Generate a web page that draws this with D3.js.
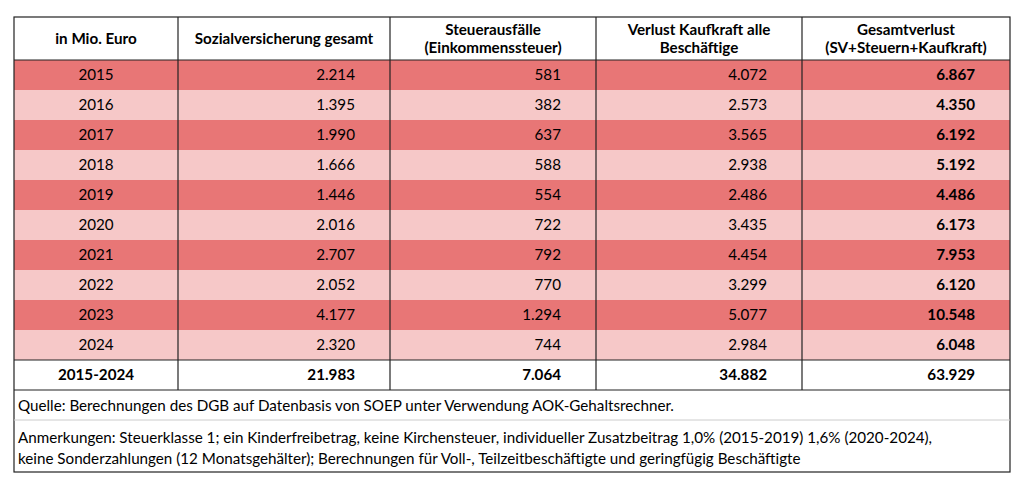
<!DOCTYPE html>
<meta charset="utf-8">
<script src="https://d3js.org/d3.v7.min.js"></script>
<style>body{margin:0;background:#fff}</style>
<div id="chart"></div>
<script>
// data
var headers = [["in Mio. Euro"], ["Sozialversicherung gesamt"], ["Steuerausfälle", "(Einkommenssteuer)"], ["Verlust Kaufkraft alle", "Beschäftige"], ["Gesamtverlust", "(SV+Steuern+Kaufkraft)"]]
var years = ["2015","2016","2017","2018","2019","2020","2021","2022","2023","2024"]
var sv = ["2.214","1.395","1.990","1.666","1.446","2.016","2.707","2.052","4.177","2.320"]
var steuer = ["581","382","637","588","554","722","792","770","1.294","744"]
var kaufkraft = ["4.072","2.573","3.565","2.938","2.486","3.435","4.454","3.299","5.077","2.984"]
var gesamt = ["6.867","4.350","6.192","5.192","4.486","6.173","7.953","6.120","10.548","6.048"]
var totals = ["2015-2024","21.983","7.064","34.882","63.929"]
var source = "Quelle: Berechnungen des DGB auf Datenbasis von SOEP unter Verwendung AOK-Gehaltsrechner."
var notes = ["Anmerkungen: Steuerklasse 1; ein Kinderfreibetrag, keine Kirchensteuer, individueller Zusatzbeitrag 1,0% (2015-2019) 1,6% (2020-2024),",
             "keine Sonderzahlungen (12 Monatsgehälter); Berechnungen für Voll-, Teilzeitbeschäftigte und geringfügig Beschäftigte"]

var font = "Lato, 'Open Sans', sans-serif"
var svg = d3.select("#chart").append("svg").attr("width", 1024).attr("height", 485)
  .style("font-family", font).style("font-size", "15.2px")

var colEdges = [14, 178, 390, 596, 802, 1010]
var rowY = d3.scaleBand().domain(years.concat(["total"])).range([60, 390])

// header
headers.forEach(function(h, i) {
  var t = svg.append("text").attr("text-anchor", "middle").attr("font-weight", "bold")
    .attr("x", (colEdges[i] + colEdges[i+1]) / 2)
  h.forEach(function(line, j) {
    t.append("tspan").attr("x", (colEdges[i] + colEdges[i+1]) / 2)
      .attr("y", h.length == 1 ? 44 : 35 + j * 18).text(line)
  })
})

// body rows
var rows = years.map(function(y, i) { return [y, sv[i], steuer[i], kaufkraft[i], gesamt[i]] })
rows.forEach(function(r, i) {
  var y = rowY(years[i])
  svg.append("rect").attr("x", colEdges[0]).attr("y", y).attr("width", colEdges[5] - colEdges[0])
    .attr("height", rowY.bandwidth()).attr("fill", i % 2 == 0 ? "#e87676" : "#f6c8c8")
  r.forEach(function(v, c) {
    svg.append("text")
      .attr("x", c == 0 ? (colEdges[0] + colEdges[1]) / 2 : colEdges[c+1] - 35)
      .attr("y", y + rowY.bandwidth() / 2 + 5)
      .attr("text-anchor", c == 0 ? "middle" : "end")
      .attr("font-weight", c == 4 ? "bold" : null)
      .text(v)
  })
})
totals.forEach(function(v, c) {
  svg.append("text")
    .attr("x", c == 0 ? (colEdges[0] + colEdges[1]) / 2 : colEdges[c+1] - 35)
    .attr("y", rowY("total") + rowY.bandwidth() / 2 + 5)
    .attr("text-anchor", c == 0 ? "middle" : "end").attr("font-weight", "bold").text(v)
})

// grid lines
var g = svg.append("g").attr("stroke", "#222").attr("stroke-width", 1.2)
colEdges.slice(1, 5).forEach(function(x) {
  g.append("line").attr("x1", x).attr("x2", x).attr("y1", 17).attr("y2", 390)
})
;[60, rowY("total"), 390].forEach(function(y) {
  g.append("line").attr("x1", 14).attr("x2", 1010).attr("y1", y).attr("y2", y)
})
svg.append("line").attr("x1", 14).attr("x2", 1010).attr("y1", 420).attr("y2", 420)
  .attr("stroke", "#ccc")
g.append("rect").attr("x", 14).attr("y", 17).attr("width", 996).attr("height", 455).attr("fill", "none")

// notes
svg.append("text").attr("x", 18).attr("y", 411).text(source)
notes.forEach(function(n, i) {
  svg.append("text").attr("x", 18).attr("y", 443 + i * 21).text(n)
})
</script>
